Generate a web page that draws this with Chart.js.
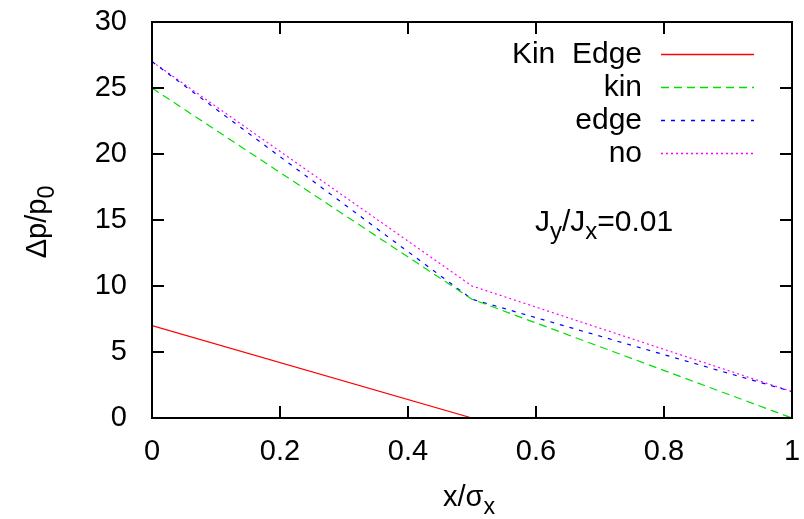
<!DOCTYPE html>
<html>
<head>
<meta charset="utf-8">
<script src="https://cdn.jsdelivr.net/npm/chart.js@4.4.0/dist/chart.umd.min.js"></script>
<style>
html,body{margin:0;padding:0;background:#fff;}
#wrap{width:804px;height:519px;}
</style>
</head>
<body>
<div id="wrap"><canvas id="c" width="804" height="519"></canvas></div>
<script>
// values
const xs = [0, 0.5, 1];
const kinEdge = [7, 0];
const kin = [25, 9, 0];
const edge = [27, 9, 2];
const noCorr = [27, 10, 2];
const labels = ["Kin  Edge", "kin", "edge", "no"];
const yMax = 30, yStep = 5, xMax = 1, xStep = 0.2;

const FONT = '"Liberation Sans", Arial, Helvetica, sans-serif';
const FS = 29;

function pts(ys){
  return ys.map(function(y,i){ return {x: xs[i], y: y}; });
}

// draw text made of [string, isSub] pieces, starting at x
function drawParts(ctx, parts, x, y, size){
  let cx = x;
  parts.forEach(function(p){
    const s = p[1] ? size*0.8 : size;
    ctx.font = s + "px " + FONT;
    ctx.fillText(p[0], cx, p[1] ? y + size*0.27 : y);
    cx += ctx.measureText(p[0]).width;
  });
  return cx - x;
}
function partsWidth(ctx, parts, size){
  let w = 0;
  parts.forEach(function(p){
    ctx.font = (p[1] ? size*0.8 : size) + "px " + FONT;
    w += ctx.measureText(p[0]).width;
  });
  return w;
}

const decor = {
  id: "decor",
  afterDraw(chart){
    const ctx = chart.ctx, a = chart.chartArea;
    const sx = chart.scales.x, sy = chart.scales.y;
    ctx.save();
    ctx.strokeStyle = "#000";
    ctx.lineWidth = 2;
    // inward ticks on all sides
    ctx.beginPath();
    for (let v = 0; v <= yMax + 1e-9; v += yStep){
      const py = Math.round(sy.getPixelForValue(v));
      ctx.moveTo(a.left, py); ctx.lineTo(a.left + 12, py);
      ctx.moveTo(a.right, py); ctx.lineTo(a.right - 12, py);
    }
    for (let v = 0; v <= xMax + 1e-9; v += xStep){
      const px = Math.round(sx.getPixelForValue(v));
      ctx.moveTo(px, a.bottom); ctx.lineTo(px, a.bottom - 12);
      ctx.moveTo(px, a.top); ctx.lineTo(px, a.top + 12);
    }
    ctx.stroke();
    ctx.strokeRect(a.left, a.top, a.right - a.left, a.bottom - a.top);

    // gnuplot style key
    ctx.fillStyle = "#000";
    ctx.textBaseline = "middle";
    ctx.textAlign = "right";
    ctx.font = "30px " + FONT;
    const rowY = [54, 87, 120, 153];
    chart.data.datasets.forEach(function(ds, i){
      ctx.fillText(ds.label, 642, rowY[i] + 1);
      ctx.strokeStyle = ds.borderColor;
      ctx.lineWidth = 1.5;
      ctx.setLineDash(ds.borderDash || []);
      ctx.beginPath();
      ctx.moveTo(661, rowY[i] + 0.5);
      ctx.lineTo(754, rowY[i] + 0.5);
      ctx.stroke();
    });
    ctx.setLineDash([]);

    // annotation
    ctx.textAlign = "left";
    ctx.textBaseline = "alphabetic";
    drawParts(ctx, [["J",0],["y",1],["/J",0],["x",1],["=0.01",0]], 535, 231, 30);

    // axis titles
    drawParts(ctx, [["x/σ",0],["x",1]], 443, 506, FS);

    const yt = [["Δp/p",0],["0",1]];
    const wy = partsWidth(ctx, yt, FS);
    ctx.translate(46, 222);
    ctx.rotate(-Math.PI/2);
    drawParts(ctx, yt, -wy/2, 0, FS);
    ctx.restore();
  }
};

const common = {fill: false, pointRadius: 0, borderWidth: 1.2, tension: 0};

new Chart(document.getElementById("c"), {
  type: "line",
  data: {
    datasets: [
      Object.assign({label: labels[0], data: pts(kinEdge), borderColor: "#ff0000"}, common),
      Object.assign({label: labels[1], data: pts(kin), borderColor: "#00dd00", borderDash: [8, 5]}, common),
      Object.assign({label: labels[2], data: pts(edge), borderColor: "#0000ff", borderDash: [4, 6]}, common),
      Object.assign({label: labels[3], data: pts(noCorr), borderColor: "#ff00ff", borderDash: [2, 3]}, common)
    ]
  },
  options: {
    responsive: false,
    animation: false,
    layout: {padding: {top: 22, right: 12, left: 0, bottom: 0}},
    plugins: {legend: {display: false}, tooltip: {enabled: false}},
    scales: {
      x: {
        type: "linear", min: 0, max: xMax,
        ticks: {
          stepSize: xStep, color: "#000", font: {family: FONT, size: FS}, padding: 17, maxRotation: 0,
          callback: function(v){ return String(Math.round(v * 10) / 10); }
        },
        grid: {display: false, drawTicks: false},
        border: {display: false},
        afterFit(s){ s.height = 101; s.paddingLeft = 0; s.paddingRight = 0; }
      },
      y: {
        type: "linear", min: 0, max: yMax,
        ticks: {stepSize: yStep, color: "#000", font: {family: FONT, size: FS}, padding: 25},
        grid: {display: false, drawTicks: false},
        border: {display: false},
        afterFit(s){ s.width = 152; s.paddingTop = 0; s.paddingBottom = 0; }
      }
    }
  },
  plugins: [decor]
});
</script>
</body>
</html>
